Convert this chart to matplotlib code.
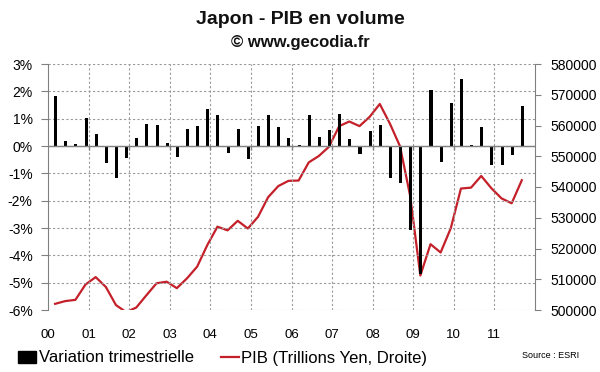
import matplotlib
matplotlib.use("Agg")
import matplotlib.pyplot as plt
from matplotlib.patches import Patch
from matplotlib.lines import Line2D
import numpy as np

plt.rcParams['font.family'] = ['Liberation Sans', 'DejaVu Sans']

years = ["00", "01", "02", "03", "04", "05", "06", "07", "08", "09", "10", "11"]

# Quarterly change (%), 2000Q1 - 2011Q3
variation = [1.84, 0.19, 0.09, 1.01,
             0.45, -0.62, -1.18, -0.45,
             0.29, 0.80, 0.77, 0.11,
             -0.41, 0.63, 0.74, 1.37,
             1.14, -0.27, 0.61, -0.46,
             0.72, 1.14, 0.71, 0.28,
             0.02, 1.14, 0.34, 0.58,
             1.17, 0.27, -0.29, 0.56,
             0.77, -1.18, -1.36, -3.06,
             -4.70, 2.04, -0.57, 1.57,
             2.45, 0.04, 0.71, -0.68,
             -0.68, -0.33, 1.46]

# GDP level (right axis)
pib = [502000, 502900, 503300, 508300,
       510700, 507500, 501600, 499300,
       500800, 504800, 508700, 509200,
       507100, 510300, 514100, 521100,
       527100, 525900, 529000, 526500,
       530300, 536700, 540300, 542000,
       542100, 548000, 550100, 553100,
       559800, 561300, 559800, 562800,
       567000, 560600, 553200, 537000,
       511200, 521400, 518700, 526600,
       539500, 539800, 543600, 539600,
       536300, 534700, 542200]

n_slots = 4 * len(years)
x = np.arange(len(variation)) + 0.75

fig = plt.figure(figsize=(6.0, 3.72), dpi=100)
ax = fig.add_axes([48/600, 1-310/372, (535-48)/600, (310-64)/372])
ax2 = ax.twinx()

grid_c = '#9a9a9a'
axis_c = '#808080'

# left axis
ax.set_xlim(0, n_slots)
ax.set_ylim(-6, 3)
yt = np.arange(-6, 4, 1)
ax.set_yticks(yt)
ax.set_yticklabels([f"{v}%" for v in yt])
for v in yt:
    ax.axhline(v, color=grid_c, lw=0.8, ls=(0, (2, 2)), zorder=0)
xt = np.arange(0, n_slots, 4)
for v in xt[1:]:
    ax.axvline(v, color=grid_c, lw=0.8, ls=(0, (2, 2)), zorder=0)
ax.set_xticks(xt)
ax.set_xticklabels(years)
ax.tick_params(axis='x', length=0, pad=14, labelsize=9.5)
ax.tick_params(axis='y', length=5, direction='out', color=axis_c, pad=6, labelsize=10)

ax.bar(x, variation, width=0.3, color='black', zorder=3)
ax.axhline(0, color=axis_c, lw=1.0, zorder=4)
ax.vlines(xt[1:], -0.15, 0, color=axis_c, lw=1.0, zorder=4)

for s in ['top', 'bottom']:
    ax.spines[s].set_visible(False)
    ax2.spines[s].set_visible(False)
ax.spines['left'].set_color(axis_c)
ax.spines['right'].set_visible(False)
ax2.spines['left'].set_visible(False)
ax2.spines['right'].set_color(axis_c)

# right axis
ax2.set_ylim(500000, 580000)
ax2.set_yticks(np.arange(500000, 580001, 10000))
ax2.tick_params(axis='y', length=4, direction='out', color=axis_c, pad=7, labelsize=10)
ax2.plot(x - 0.05, pib, color='#C4202A', lw=1.6, zorder=5)

ax.set_zorder(ax2.get_zorder() + 1)
ax.patch.set_visible(False)

# titles
fig.text(0.5, 1-20/372, "Japon - PIB en volume", ha='center', va='center',
         fontsize=14, fontweight='bold', color='#111111')
fig.text(0.5, 1-43/372, "© www.gecodia.fr", ha='center', va='center',
         fontsize=12, fontweight='bold', color='#111111')

# legend
handles = [Patch(facecolor='black', edgecolor='black'),
           Line2D([0], [0], color='#C4202A', lw=1.6)]
labels = ["Variation trimestrielle", "PIB (Trillions Yen, Droite)"]
fig.legend(handles, labels, loc='center left', bbox_to_anchor=(18/600, 1-358/372),
           ncol=2, frameon=False, fontsize=12, handlelength=1.1, handleheight=0.7,
           handletextpad=0.15, columnspacing=1.6, borderpad=0, borderaxespad=0)
fig.text(522/600, 1-355/372, "Source : ESRI", ha='left', va='center', fontsize=6.5)

fig.savefig("out.png", dpi=100)
